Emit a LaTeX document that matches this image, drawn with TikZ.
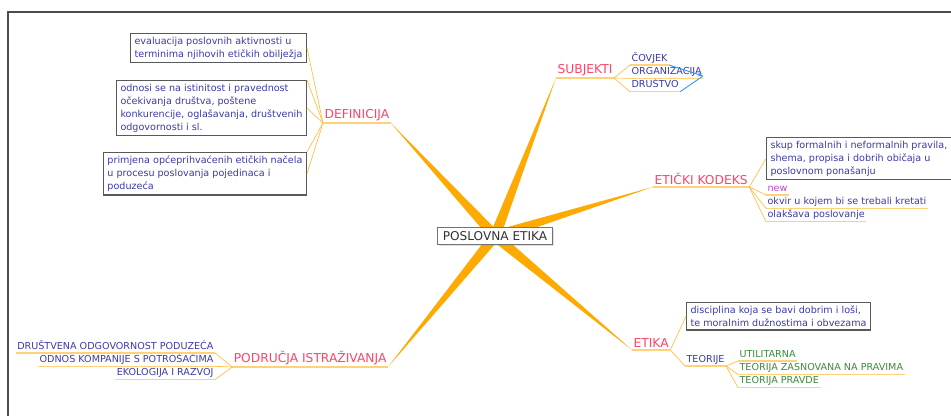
\documentclass[tikz,border=0pt]{standalone}
\usepackage{fontspec}
\setmainfont{DejaVu Sans}
\usetikzlibrary{arrows.meta,calc,positioning,shadows,backgrounds}
\definecolor{mmorange}{HTML}{FFAA00}
\definecolor{mmedge}{HTML}{FFBE3C}
\definecolor{mmline}{HTML}{FFD27A}
\definecolor{mmtopic}{HTML}{FF4466}
\definecolor{mmblue}{HTML}{3A3AAA}
\definecolor{mmgreen}{HTML}{3C8A3C}
\definecolor{mmlink}{HTML}{3399FF}
\definecolor{mmnew}{HTML}{BB44CC}

\begin{document}
\begin{tikzpicture}[
  x=0.75pt, y=-0.75pt,
  font=\fontsize{7.2}{9.75}\selectfont,
  >=Stealth,
  root/.style={draw=black!55,fill=white,text=black!80,
               font=\fontsize{9.1}{11}\selectfont,inner xsep=4pt,inner ysep=3pt,
               drop shadow={opacity=0.25,shadow xshift=1pt,shadow yshift=-1pt}},
  topic/.style={text=mmtopic,font=\fontsize{9.2}{10}\selectfont,
                inner xsep=1pt,inner ysep=1.5pt,anchor=south west},
  note/.style={draw=black!65,line width=0.9pt,fill=white,text=mmblue,
               align=left,inner xsep=3pt,inner ysep=2.5pt},
  leaf/.style={text=mmblue,inner xsep=1pt,inner ysep=0.8pt,
               text height=6.2pt,text depth=1.8pt},
  theory/.style={leaf,text=mmgreen},
  branch/.style={fill=mmorange},
  edge/.style={draw=mmedge,line width=0.5pt},
  ul/.style={draw=mmline,line width=0.8pt},
  link/.style={draw=mmlink,line width=0.7pt},
  frame/.style={draw=black!70,line width=1.1pt}
]
\useasboundingbox (0,0) rectangle (951,416);

% frame
\coordinate (fa) at (8,416);
\coordinate (fb) at (8,12);
\coordinate (fc) at (951,12);
\draw[frame] (fa) -- (fb) -- (fc);

% centre and main topics
\node[root] (pe) at (495,236) {POSLOVNA ETIKA};
\node[topic] (def) at (323,123) {DEFINICIJA};
\node[topic] (sub) at (556,78) {SUBJEKTI};
\node[topic] (kod) at (653,187) {ETIČKI KODEKS};
\node[topic] (eti) at (632,350) {ETIKA};
\node[topic,anchor=south east] (pod) at (388,367) {PODRUČJA ISTRAŽIVANJA};

% definicija
\node[note,anchor=north east] (def1) at (307,33)
  {evaluacija poslovnih aktivnosti u\\terminima njihovih etičkih obilježja};
\node[note,anchor=north east] (def2) at (307,80)
  {odnosi se na istinitost i pravednost\\očekivanja društva, poštene\\
   konkurencije, oglašavanja, društvenih\\odgovornosti i sl.};
\node[note,anchor=north east] (def3) at (307,152)
  {primjena općeprihvaćenih etičkih načela\\u procesu poslovanja pojedinaca i\\poduzeća};

% subjekti
\node[leaf,anchor=south west] (cov) at (630,65) {ČOVJEK};
\node[leaf,below=0pt of cov.south west,anchor=north west] (org) {ORGANIZACIJA};
\node[leaf,below=0pt of org.south west,anchor=north west] (dru) {DRUŠTVO};
\coordinate (lk) at (703,76);

% eticki kodeks
\node[note,anchor=north west] (kod1) at (766,137)
  {skup formalnih i neformalnih pravila,\\shema, propisa i dobrih običaja u\\poslovnom ponašanju};
\node[leaf,text=mmnew,anchor=south west] (new) at (766,195) {new};
\node[leaf,below=0pt of new.south west,anchor=north west] (okv) {okvir u kojem bi se trebali kretati};
\node[leaf,below=0pt of okv.south west,anchor=north west] (ola) {olakšava poslovanje};

% etika
\node[note,anchor=north west] (eti1) at (686,302)
  {disciplina koja se bavi dobrim i loši,\\te moralnim dužnostima i obvezama};
\node[leaf,anchor=south west] (teo) at (685,366) {TEORIJE};
\node[theory,anchor=south west] (utl) at (738,361) {UTILITARNA};
\node[theory,below=0pt of utl.south west,anchor=north west] (tzp) {TEORIJA ZASNOVANA NA PRAVIMA};
\node[theory,below=0pt of tzp.south west,anchor=north west] (tpr) {TEORIJA PRAVDE};

% podrucja istrazivanja
\node[leaf,anchor=south east] (dop) at (215,353) {DRUŠTVENA ODGOVORNOST PODUZEĆA};
\node[leaf,below=0pt of dop.south east,anchor=north east] (okp) {ODNOS KOMPANIJE S POTROŠAČIMA};
\node[leaf,below=0pt of okp.south east,anchor=north east] (eir) {EKOLOGIJA I RAZVOJ};

% tapered branches
\begin{scope}[on background layer]
  \foreach \t/\e in {def/south east,sub/south west,kod/south west,eti/south west,pod/south east}
    \fill[branch] ($(pe.center)!4pt!90:(\t.\e)$) -- (\t.\e) -- ($(pe.center)!4pt!-90:(\t.\e)$) -- cycle;
\end{scope}

% underlines
\foreach \n in {def,sub,kod,eti,pod,cov,org,dru,new,okv,ola,teo,utl,tzp,tpr,dop,okp,eir}
  \draw[ul] (\n.south west) -- (\n.south east);

% thin edges
\draw[edge] (def.south west) -- (def1.east);
\draw[edge] (def.south west) -- (def2.north east);
\draw[edge] (def.south west) -- (def2.east);
\draw[edge] (def.south west) -- (def3.north east);
\draw[edge] (def.south west) -- (def3.east);
\foreach \n in {cov,org,dru}
  \draw[edge] (sub.south east) -- (\n.south west);
\draw[edge] (kod.south east) -- (kod1.west);
\foreach \n in {new,okv,ola}
  \draw[edge] (kod.south east) -- (\n.south west);
\draw[edge] (eti.south east) -- (eti1.west);
\draw[edge] (eti.south east) -- (teo.south west);
\foreach \n in {utl,tzp,tpr}
  \draw[edge] (teo.south east) -- (\n.south west);
\foreach \n in {dop,okp,eir}
  \draw[edge] (pod.south west) -- (\n.south east);

% arrow link
\draw[link,-{Stealth[length=4pt,width=3pt]}] (cov.south east) -- (lk);
\draw[link] (lk) -- (dru.south east);
\end{tikzpicture}
\end{document}
